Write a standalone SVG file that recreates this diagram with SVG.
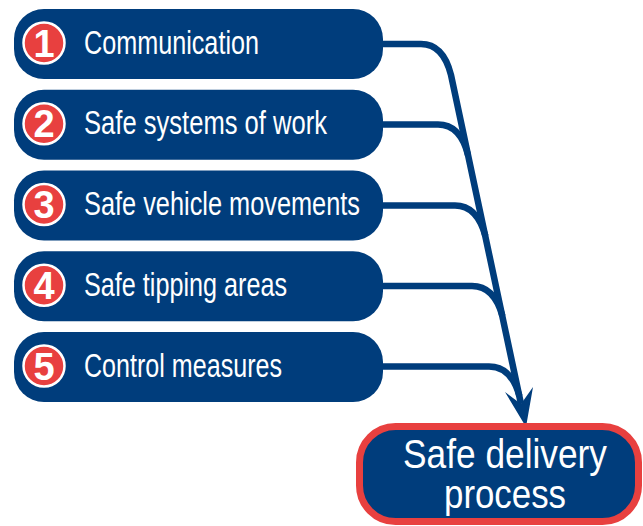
<svg xmlns="http://www.w3.org/2000/svg" width="643" height="526" viewBox="0 0 643 526">
  <defs>
    <style>
      .box { fill: #003d7c; }
      .badge { fill: #e8403f; stroke: #ffffff; stroke-width: 2.5; }
      .num { fill: #ffffff; font-family: "Liberation Sans", Arial, sans-serif; font-weight: bold; font-size: 38px; text-anchor: middle; }
      .lbl { fill: #ffffff; font-family: "Liberation Sans Narrow", "Liberation Sans", Arial, sans-serif; font-size: 33px; }
      .conn { fill: none; stroke: #003d7c; stroke-width: 6.5; stroke-linecap: butt; }
      .big { fill: #ffffff; font-family: "Liberation Sans Narrow", "Liberation Sans", Arial, sans-serif; font-size: 41px; text-anchor: middle; }
    </style>
  </defs>
  <rect width="643" height="526" fill="#ffffff"/>

  <g id="connectors">
    <path class="conn" d="M380,44 H421 C439,44 447,59 451,75 L521,404"/>
    <path class="conn" d="M380,124.5 H438 C456,124.5 464,139 468,155"/>
    <path class="conn" d="M380,205.5 H455 C473,205.5 481,220 485.4,236"/>
    <path class="conn" d="M380,286 H472 C490,286 498,300 502.4,316"/>
    <path class="conn" d="M380,366.5 H489 C507,366.5 515,380 519.4,396"/>
    <polygon fill="#003d7c" points="526,427 505,392 521,404 533,387"/>
  </g>

  <g id="node1">
    <rect class="box" x="14" y="9" width="369" height="70" rx="30"/>
    <circle class="badge" cx="44" cy="43" r="20.5"/>
    <text class="num" x="44" y="56.5">1</text>
    <text class="lbl" x="84" y="53.5" textLength="175" lengthAdjust="spacingAndGlyphs">Communication</text>
  </g>
  <g id="node2">
    <rect class="box" x="14" y="89.75" width="369" height="70" rx="30"/>
    <circle class="badge" cx="44" cy="123.75" r="20.5"/>
    <text class="num" x="44" y="137.25">2</text>
    <text class="lbl" x="84" y="134" textLength="243" lengthAdjust="spacingAndGlyphs">Safe systems of work</text>
  </g>
  <g id="node3">
    <rect class="box" x="14" y="170.5" width="369" height="70" rx="30"/>
    <circle class="badge" cx="44" cy="204.5" r="20.5"/>
    <text class="num" x="44" y="218">3</text>
    <text class="lbl" x="84" y="215" textLength="276" lengthAdjust="spacingAndGlyphs">Safe vehicle movements</text>
  </g>
  <g id="node4">
    <rect class="box" x="14" y="251.25" width="369" height="70" rx="30"/>
    <circle class="badge" cx="44" cy="285.25" r="20.5"/>
    <text class="num" x="44" y="298.75">4</text>
    <text class="lbl" x="84" y="295.75" textLength="203" lengthAdjust="spacingAndGlyphs">Safe tipping areas</text>
  </g>
  <g id="node5">
    <rect class="box" x="14" y="332" width="369" height="70" rx="30"/>
    <circle class="badge" cx="44" cy="366" r="20.5"/>
    <text class="num" x="44" y="379.5">5</text>
    <text class="lbl" x="84" y="376.5" textLength="198" lengthAdjust="spacingAndGlyphs">Control measures</text>
  </g>

  <g id="target">
    <rect x="359.5" y="426.5" width="279" height="95" rx="36" fill="#003d7c" stroke="#e8403f" stroke-width="7"/>
    <text class="big" x="505" y="468" textLength="204" lengthAdjust="spacingAndGlyphs">Safe delivery</text>
    <text class="big" x="505" y="508" textLength="122" lengthAdjust="spacingAndGlyphs">process</text>
  </g>
</svg>
